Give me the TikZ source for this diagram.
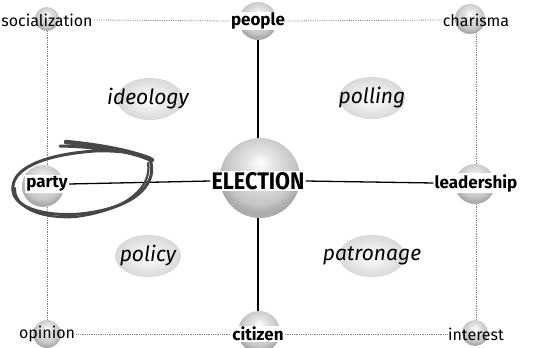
\documentclass[tikz,border=0pt]{standalone}
\usepackage{fontspec}
\setmainfont{Fira Sans}
\usetikzlibrary{shapes.geometric}
\pgfdeclarelayer{background}
\pgfsetlayers{background,main}
\pgfdeclareradialshading{sphshade}{\pgfpoint{0bp}{10bp}}{%
  color(0bp)=(white); color(8bp)=(gray!20); color(22bp)=(gray!45); color(26bp)=(gray!65); color(50bp)=(gray!70)}
\tikzset{
  sph/.style={circle, shading=sphshade, minimum size=#1, inner sep=0pt, draw=none},
  lab/.style={font=\fontsize{16}{17}\selectfont, inner sep=1pt},
  blab/.style={font=\bfseries\fontsize{17}{18}\selectfont, fill=white, inner sep=1pt},
  elab/.style={font=\bfseries\fontsize{24}{25}\selectfont, fill=white, inner sep=1pt, xscale=0.9},
  ilab/.style={font=\itshape\fontsize{21}{22}\selectfont, inner sep=0pt},
  oval/.style={ellipse, minimum width=66pt, minimum height=42pt, inner sep=0pt,
    draw=none, inner color=white, outer color=gray!30},
  dotl/.style={gray, densely dotted, line width=0.8pt},
  sol/.style={black, line width=1.3pt},
  ink/.style={draw=black!72, line cap=round, line join=round},
}
\begin{document}
\begin{tikzpicture}[x=1pt,y=-1pt]
\useasboundingbox (0,0) rectangle (539,348);
% spheres
\node[sph=24pt] (s1) at (47,19) {};
\node[sph=38pt] (s2) at (258,21) {};
\node[sph=30pt] (s3) at (470,19) {};
\node[sph=42pt] (s4) at (43,186) {};
\node[sph=80pt] (s5) at (260,178) {};
\node[sph=40pt] (s6) at (475,184) {};
\node[sph=28pt] (s7) at (47,334) {};
\node[sph=42pt] (s8) at (259,332) {};
\node[sph=26pt] (s9) at (475,333) {};
% ellipses
\node[oval] (e1) at (150,99) {};
\node[oval] (e2) at (372,98) {};
\node[oval] (e3) at (148,256) {};
\node[oval] (e4) at (372,256) {};
\node[ilab] at (148,99) {ideology};
\node[ilab] at (372,98) {polling};
\node[ilab] at (148,256) {policy};
\node[ilab] at (372,256) {patronage};
% labels
\node[lab] (soc) at (47,20) {socialization};
\node[blab] (peo) at (258,21) {people};
\node[lab] (cha) at (476,20) {charisma};
\node[blab] (par) at (47,184) {party};
\node[elab] (ele) at (258,181) {ELECTION};
\node[blab] (lea) at (476,183) {leadership};
\node[lab] (opi) at (47,334) {opinion};
\node[blab] (cit) at (258,334) {citizen};
\node[lab] (int) at (476,334) {interest};
\begin{pgfonlayer}{background}
% dotted connectors
\draw[dotl] (soc.east) -- (peo.west);
\draw[dotl] (peo.east) -- (cha.west);
\draw[dotl] (opi.east) -- (cit.west);
\draw[dotl] (cit.east) -- (int.west);
\draw[dotl] (s1.south) -- (par.north);
\draw[dotl] (par.south) -- (s7.north);
\draw[dotl] (476,32) -- (lea.north);
\draw[dotl] (lea.south) -- (476,320);
% solid connectors
\draw[sol] (peo.south) -- (ele.north);
\draw[sol] (ele.south) -- (cit.north);
\draw[sol] (par.east) -- (ele.west);
\draw[sol] (ele.east) -- (lea.west);
\end{pgfonlayer}
% hand-drawn ring around party
\draw[ink, line width=4.5pt] (66,142) .. controls (95,145) and (130,150) .. (152,160);
\draw[ink, line width=3pt] (60,146) .. controls (100,147) and (135,152) .. (150,160)
  .. controls (158,180) and (140,208) .. (80,214)
  .. controls (40,217) and (10,206) .. (13,186)
  .. controls (15,166) and (50,154) .. (95,151)
  .. controls (120,150) and (140,154) .. (150,158);
\draw[ink, line width=2.2pt] (148,163) .. controls (152,185) and (130,210) .. (75,217)
  .. controls (35,219) and (14,205) .. (15,188);
\end{tikzpicture}
\end{document}
